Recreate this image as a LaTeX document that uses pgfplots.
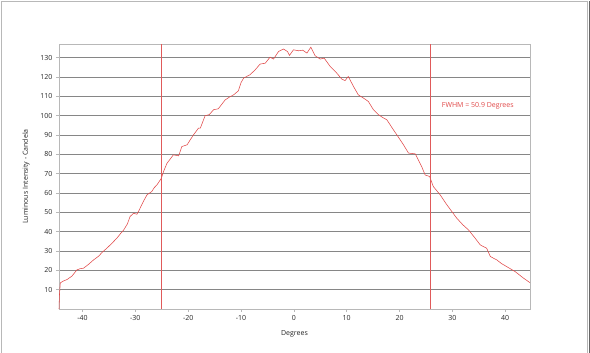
\documentclass[border=0pt]{standalone}
\usepackage{pgfplots}
\pgfplotsset{compat=1.18}
\usepackage{fontspec}
\setmainfont{Open Sans}
\definecolor{curve}{HTML}{E04848}
\definecolor{vline}{HTML}{E05A5A}
\definecolor{gridc}{HTML}{868686}
\definecolor{boxc}{HTML}{B8B8B8}
\begin{document}
\begin{tikzpicture}
\useasboundingbox (0,0) rectangle (590bp,353bp);
\draw[boxc, line width=0.8bp] (1bp,0) -- (1bp,352bp) -- (587bp,352bp) -- (587bp,0);
\draw[gray!80!black, line width=0.8bp] (589bp,0) -- (589bp,352bp);
\begin{axis}[
  at={(59bp,44bp)}, anchor=south west,
  scale only axis, width=471bp, height=265bp,
  xmin=-44.45, xmax=44.7, ymin=0, ymax=137,
  xtick={-40,-30,...,40}, ytick={10,20,...,130},
  ymajorgrids, grid style={gridc, line width=0.7bp},
  axis line style={boxc, line width=0.8bp},
  tick align=outside, major tick length=3bp,
  tick style={boxc, line width=0.6bp},
  xtick pos=bottom, ytick pos=left,
  tick label style={font=\fontsize{7bp}{8bp}\selectfont, text=black!85},
  /pgf/number format/assume math mode=true,
  xlabel={Degrees}, ylabel={Luminous Intensity - Candela},
  label style={font=\fontsize{7bp}{8bp}\selectfont, text=black!85},
  xlabel style={yshift=-3bp},
  ylabel style={yshift=4bp},
  clip=false,
]
\addplot[draw=curve, line width=0.55bp, mark=none] coordinates {
(-44.45,0) (-44.35,8) (-44.2,13.5) (-43.6,14.5) (-42.95,15.2) (-42.0,17.0) (-41.06,20.2) (-40.5,20.8) (-39.8,21.1) (-38.9,23.0) (-37.9,25.4) (-37.0,27.2) (-36.2,29.5) (-35.4,31.4) (-34.5,33.8) (-33.5,36.6) (-32.8,39.0) (-32.2,40.9) (-31.5,44.0) (-31.0,47.8) (-30.35,49.5) (-29.7,49.0) (-29.3,51.0) (-28.8,53.8) (-28.3,56.5) (-27.8,59.0) (-26.9,60.7) (-26.4,62.8) (-25.9,64.2) (-25.1,67.5) (-24.6,71.5) (-24.0,75.4) (-23.4,77.5) (-22.8,79.7) (-21.8,79.2) (-21.2,84.0) (-20.2,84.9) (-19.6,87.5) (-19.0,90.0) (-18.05,93.5) (-17.7,93.5) (-16.8,99.9) (-16.0,100.5) (-15.2,103.0) (-14.3,103.5) (-13.6,106) (-13.0,108.1) (-12.05,109.8) (-11.4,110.7) (-10.5,112.8) (-10.0,117) (-9.5,119.4) (-8.3,121.1) (-7.3,123.7) (-6.4,126.6) (-5.4,127.1) (-4.5,130.2) (-3.85,129.2) (-2.9,133.1) (-1.96,134.4) (-1.2,133.1) (-0.83,131.1) (-0.07,134.0) (0.88,133.5) (1.7,133.8) (2.47,132.3) (3.22,135.4) (4.04,130.9) (4.98,129.2) (5.74,129.7) (6.88,125.4) (8.14,121.9) (9.09,118.8) (9.7,118.1) (10.3,120.2) (11.3,115.0) (12.2,110.7) (13.2,109.0) (14.1,107.3) (15.07,103.0) (16.0,100.5) (16.7,99.2) (17.6,97.8) (18.86,92.6) (19.5,90.0) (20.75,84.9) (21.7,80.6) (23.0,80.2) (24.2,73.6) (24.85,69.3) (25.7,68.5) (26.4,63.3) (27.7,59.0) (28.8,54.5) (29.9,50.4) (30.85,46.9) (32.0,43.5) (33.05,40.9) (34.2,37.0) (35.3,33.1) (36.5,31.4) (37.2,27.1) (38.4,25.4) (39.3,23.5) (40.3,21.9) (41.9,19.3) (43.5,15.9) (44.7,13.6)
};
\addplot[draw=vline, line width=1bp, mark=none] coordinates {(25.8,0) (25.8,137)};
\addplot[draw=vline, line width=1bp, mark=none] coordinates {(-25.05,0) (-25.05,137)};
\node[anchor=west, text=curve, font=\fontsize{7bp}{8bp}\selectfont, inner sep=0pt] at (axis cs:28.0,105) {FWHM = 50.9 Degrees};
\end{axis}
\end{tikzpicture}
\end{document}
